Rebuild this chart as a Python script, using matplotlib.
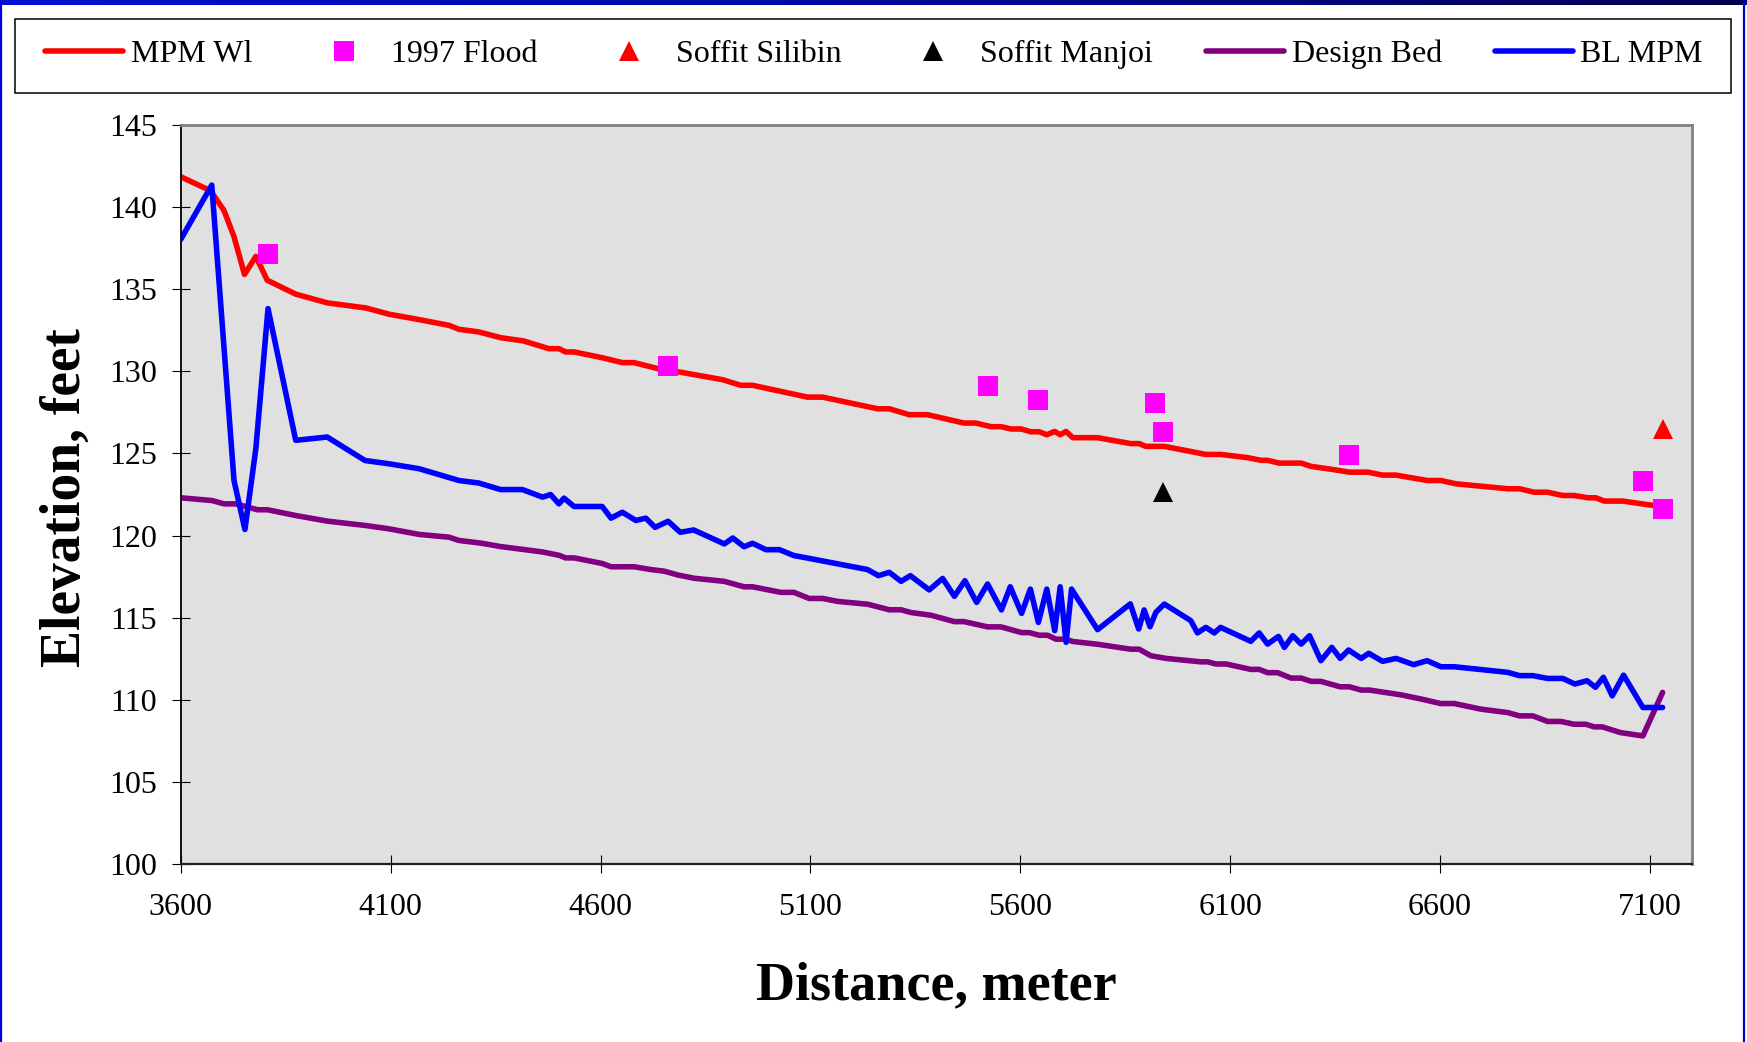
import numpy as np
import matplotlib
matplotlib.use("Agg")
import matplotlib.pyplot as plt
from matplotlib.patches import Rectangle
from matplotlib.lines import Line2D

plt.rcParams['font.family'] = ['Liberation Serif', 'DejaVu Serif']

# water level along the reach (MPM)
wl_dist = [3600, 3671, 3703, 3727, 3752, 3779, 3806, 3874, 3949, 4041, 4096, 4168,
           4239, 4263, 4310, 4362, 4417, 4477, 4501, 4517, 4537, 4604, 4652, 4680,
           4739, 4779, 4891, 4934, 4962, 5093, 5129, 5260, 5288, 5335, 5379, 5466,
           5494, 5530, 5554, 5578, 5602, 5625, 5645, 5663, 5682, 5695, 5709, 5725,
           5784, 5863, 5883, 5899, 5943, 6006, 6042, 6078, 6142, 6174, 6189, 6217,
           6269, 6293, 6340, 6384, 6428, 6463, 6495, 6570, 6602, 6638, 6761, 6789,
           6824, 6856, 6892, 6919, 6952, 6971, 6991, 7035, 7130]
wl_elev = [141.85, 141.0, 139.8, 138.2, 135.9, 137.0, 135.55, 134.7, 134.17, 133.86, 133.48, 133.15,
           132.8, 132.56, 132.4, 132.05, 131.85, 131.38, 131.38, 131.18, 131.18, 130.83, 130.53, 130.53,
           130.15, 130.0, 129.49, 129.15, 129.15, 128.43, 128.43, 127.72, 127.72, 127.36, 127.36, 126.85,
           126.85, 126.63, 126.63, 126.49, 126.49, 126.32, 126.32, 126.14, 126.34, 126.14, 126.34, 125.96,
           125.96, 125.6, 125.6, 125.43, 125.43, 125.12, 124.94, 124.94, 124.74, 124.58, 124.58, 124.41,
           124.41, 124.21, 124.04, 123.86, 123.86, 123.68, 123.68, 123.35, 123.35, 123.15, 122.85, 122.85,
           122.64, 122.64, 122.44, 122.44, 122.3, 122.3, 122.1, 122.1, 121.75]

# bed level (MPM)
bl_dist = [3600, 3674, 3727, 3753, 3779, 3808, 3874, 3949, 4039, 4096, 4168, 4263,
           4310, 4362, 4414, 4462, 4481, 4501, 4513, 4537, 4604, 4625, 4652, 4684,
           4708, 4730, 4761, 4790, 4822, 4895, 4915, 4942, 4962, 4994, 5026, 5061,
           5093, 5236, 5262, 5288, 5316, 5338, 5383, 5415, 5443, 5468, 5496, 5522,
           5555, 5576, 5603, 5624, 5643, 5663, 5682, 5695, 5709, 5722, 5784, 5862,
           5882, 5895, 5909, 5923, 5943, 6006, 6022, 6042, 6062, 6077, 6149, 6169,
           6189, 6215, 6229, 6249, 6269, 6289, 6316, 6342, 6362, 6382, 6412, 6430,
           6463, 6495, 6537, 6569, 6602, 6634, 6761, 6789, 6821, 6856, 6892, 6921,
           6950, 6970, 6989, 7010, 7037, 7083, 7130]
bl_elev = [138.03, 141.34, 123.35, 120.37, 125.29, 133.82, 125.8, 126.0, 124.57, 124.37, 124.07, 123.35,
           123.2, 122.8, 122.8, 122.34, 122.5, 121.93, 122.28, 121.77, 121.77, 121.06, 121.42, 120.92,
           121.06, 120.5, 120.87, 120.2, 120.34, 119.49, 119.85, 119.32, 119.53, 119.14, 119.14, 118.78,
           118.63, 117.93, 117.56, 117.76, 117.21, 117.56, 116.69, 117.39, 116.3, 117.25, 115.93, 117.05,
           115.47, 116.88, 115.26, 116.74, 114.71, 116.74, 114.21, 116.88, 113.5, 116.74, 114.27, 115.84,
           114.31, 115.47, 114.45, 115.33, 115.83, 114.82, 114.07, 114.41, 114.07, 114.41, 113.56, 114.07,
           113.39, 113.86, 113.19, 113.9, 113.39, 113.9, 112.38, 113.19, 112.52, 113.03, 112.52, 112.83,
           112.34, 112.52, 112.14, 112.38, 112.01, 112.01, 111.67, 111.47, 111.47, 111.3, 111.3, 110.96,
           111.16, 110.76, 111.37, 110.24, 111.5, 109.53, 109.53]

# design bed
bed_dist = [3600, 3675, 3703, 3731, 3783, 3807, 3874, 3949, 4041, 4096, 4168, 4239,
            4263, 4315, 4362, 4417, 4462, 4501, 4517, 4537, 4604, 4625, 4680, 4720,
            4752, 4784, 4823, 4895, 4942, 4962, 5030, 5061, 5097, 5129, 5165, 5236,
            5288, 5316, 5340, 5387, 5443, 5466, 5522, 5554, 5603, 5621, 5645, 5665,
            5685, 5709, 5725, 5784, 5863, 5883, 5911, 5947, 6030, 6046, 6066, 6090,
            6149, 6169, 6189, 6213, 6245, 6269, 6293, 6316, 6362, 6384, 6412, 6432,
            6507, 6554, 6602, 6634, 6697, 6761, 6789, 6821, 6856, 6888, 6919, 6947,
            6967, 6986, 7030, 7083, 7130]
bed_elev = [122.3, 122.13, 121.93, 121.93, 121.57, 121.57, 121.22, 120.88, 120.61, 120.41, 120.07, 119.9,
            119.7, 119.54, 119.33, 119.15, 119.0, 118.8, 118.64, 118.64, 118.3, 118.1, 118.1, 117.93,
            117.83, 117.6, 117.4, 117.21, 116.88, 116.88, 116.54, 116.54, 116.17, 116.17, 115.99, 115.82,
            115.48, 115.48, 115.31, 115.15, 114.76, 114.76, 114.44, 114.44, 114.09, 114.09, 113.93, 113.93,
            113.69, 113.69, 113.55, 113.38, 113.08, 113.08, 112.68, 112.52, 112.31, 112.31, 112.18, 112.18,
            111.85, 111.85, 111.65, 111.65, 111.32, 111.32, 111.12, 111.12, 110.79, 110.79, 110.59, 110.59,
            110.3, 110.05, 109.77, 109.77, 109.43, 109.22, 109.02, 109.02, 108.68, 108.68, 108.51, 108.51,
            108.35, 108.35, 108.0, 107.8, 110.45]

# observed 1997 flood marks
flood_dist = [3807, 4761, 5522, 5641, 5921, 5941, 6382, 7083, 7130]
flood_elev = [137.15, 130.32, 129.1, 128.23, 128.07, 126.3, 124.92, 123.35, 121.6]

# bridge soffits
silibin_dist = [7130]
silibin_elev = [126.5]
manjoi_dist = [5941]
manjoi_elev = [122.65]

W, H = 1747, 1042
fig = plt.figure(figsize=(W / 100, H / 100), dpi=100)
fig.patch.set_facecolor('white')

ax = fig.add_axes([180.7 / W, 1 - 864 / H, (1692 - 180.7) / W, (864 - 125) / H])
ax.set_facecolor('#E0E0E0')

lw = 4.0
ax.plot(wl_dist, wl_elev, color='#FF0000', lw=lw, label='MPM Wl', solid_capstyle='round')
ax.plot(flood_dist, flood_elev, ls='none', marker='s', ms=13.7, mew=0,
        color='#FF00FF', label='1997 Flood')
ax.plot(silibin_dist, silibin_elev, ls='none', marker='^', ms=13.7, mew=0,
        color='#FF0000', label='Soffit Silibin')
ax.plot(manjoi_dist, manjoi_elev, ls='none', marker='^', ms=13.7, mew=0,
        color='black', label='Soffit Manjoi')
ax.plot(bed_dist, bed_elev, color='#800080', lw=lw, label='Design Bed', solid_capstyle='round')
ax.plot(bl_dist, bl_elev, color='#0000FF', lw=lw, label='BL MPM', solid_capstyle='round')

# keep markers on top of the lines
for ln in ax.lines[1:4]:
    ln.set_zorder(5)

ax.set_xlim(3600, 7200)
ax.set_ylim(100, 145)
ax.set_xticks(np.arange(3600, 7101, 500))
ax.set_yticks(np.arange(100, 146, 5))

ax.tick_params(axis='both', direction='inout', length=12.6, width=0.8,
               labelsize=23, colors='black')
ax.tick_params(axis='x', pad=14.5)
ax.tick_params(axis='y', pad=10.5)

ax.spines['left'].set_color('black')
ax.spines['left'].set_linewidth(1.3)
ax.spines['bottom'].set_color('#202020')
ax.spines['bottom'].set_linewidth(1.6)
for side in ('top', 'right'):
    ax.spines[side].set_color('#808080')
    ax.spines[side].set_linewidth(2.0)

ax.set_xlabel('Distance, meter', fontsize=39, fontweight='bold')
ax.set_ylabel('Elevation, feet', fontsize=40, fontweight='bold')
ax.xaxis.set_label_coords(0.5, -0.132)
ax.yaxis.set_label_coords(-0.0587, 0.496)

# legend across the top inside a plain black box
handles, labels = ax.get_legend_handles_labels()
fig.legend(handles, labels, loc='center', ncol=6, mode='expand',
           bbox_to_anchor=(45 / W, 1 - 54.5 / H, (1703 - 45) / W, 0),
           frameon=False, borderpad=0, borderaxespad=0, fontsize=23,
           handlelength=2.44, handletextpad=0.25, numpoints=1)
fig.patches.append(Rectangle((15.5 / W, 1 - 93.3 / H), (1731 - 15.5) / W, 74 / H,
                             transform=fig.transFigure, fill=False,
                             edgecolor='black', lw=1.1))

# slide frame: gradient band on top, thin blue edges at the sides
band = fig.add_axes([0, 1 - 5 / H, 1, 5 / H])
grad = np.linspace(0, 1, 256).reshape(1, -1)
band.imshow(grad, aspect='auto', cmap=matplotlib.colors.LinearSegmentedColormap.from_list(
    'band', ['#0010D0', '#0008A0', '#000050']), extent=[0, 1, 0, 1])
band.axis('off')
fig.add_artist(Line2D([1 / W, 1 / W], [0, 1], color='#0000E0', lw=1.6,
                      transform=fig.transFigure))
fig.add_artist(Line2D([1743.5 / W, 1743.5 / W], [0, 1], color='#0000C0', lw=1.6,
                      transform=fig.transFigure))

fig.savefig('out.png', dpi=100, facecolor='white')
